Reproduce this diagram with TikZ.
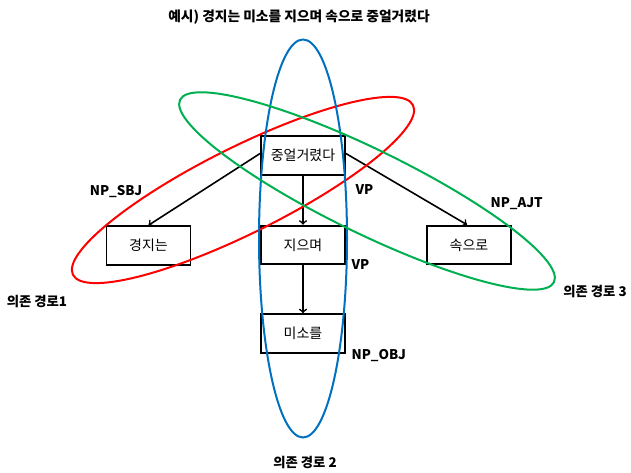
\documentclass[tikz,border=0pt]{standalone}
\usepackage{fontspec}
\setmainfont{Noto Sans CJK KR}
\usepackage{xcolor}
\usepackage{tikz}
\usetikzlibrary{arrows, positioning, calc}

\definecolor{pathred}{RGB}{255,0,0}
\definecolor{pathgreen}{RGB}{0,176,80}
\definecolor{pathblue}{RGB}{0,112,192}

\begin{document}
\begin{tikzpicture}[
    x=0.75pt, y=-0.75pt,
    word/.style={draw, rectangle, line width=1.4pt, minimum width=63pt,
      minimum height=29pt, inner sep=0pt, font=\fontsize{10.5}{12}\selectfont},
    tag/.style={font=\fontsize{10}{12}\selectfont\bfseries, inner sep=1pt},
    arrow/.style={line width=1.2pt,->,>=to},
    orbit/.style={line width=1.5pt}
]
\useasboundingbox (0,0) rectangle (631,473);

\node[tag, font=\fontsize{10.3}{12}\selectfont\bfseries] (title) at (299,17) {예시) 경지는 미소를 지으며 속으로 중얼거렸다};

\node[word] (root) at (303,155.5) {중얼거렸다};
\node[word] (verb) at (303,245) {지으며};
\node[word] (obj)  at (303,333.5) {미소를};
\node[word] (sbj)  at (148.5,245.5) {경지는};
\node[word] (ajt)  at (469,245) {속으로};

\draw[arrow] ($(root.west)+(0,-2)$) -- (sbj.north);
\draw[arrow] ($(root.east)+(0,-2)$) -- ($(ajt.north)+(-2,0)$);
\draw[arrow] (root) -- (verb);
\draw[arrow] (verb) -- (obj);

% dependency paths
\coordinate (c1) at (243,190);
\coordinate (c2) at (303,238.5);
\coordinate (c3) at (367,191);
\draw[orbit, pathred, rotate around={26.5:(c1)}] (c1) ellipse [x radius=190, y radius=43];
\draw[orbit, pathblue] (c2) ellipse [x radius=44, y radius=199];
\draw[orbit, pathgreen, rotate around={-26:(c3)}] (c3) ellipse [x radius=208, y radius=42];

\node[tag] (sbjlab) at (116,192) {NP\_SBJ};
\node[tag, anchor=west] (vplab1) at (354,190) {VP};
\node[tag, anchor=west] (vplab2) at (350,265) {VP};
\node[tag, anchor=west] (objlab) at (350,356) {NP\_OBJ};
\node[tag, anchor=west] (ajtlab) at (489,204) {NP\_AJT};

\node[tag] (path1) at (37,302) {의존 경로1};
\node[tag] (path2) at (305,463) {의존 경로 2};
\node[tag] (path3) at (595,292) {의존 경로 3};
\end{tikzpicture}
\end{document}
